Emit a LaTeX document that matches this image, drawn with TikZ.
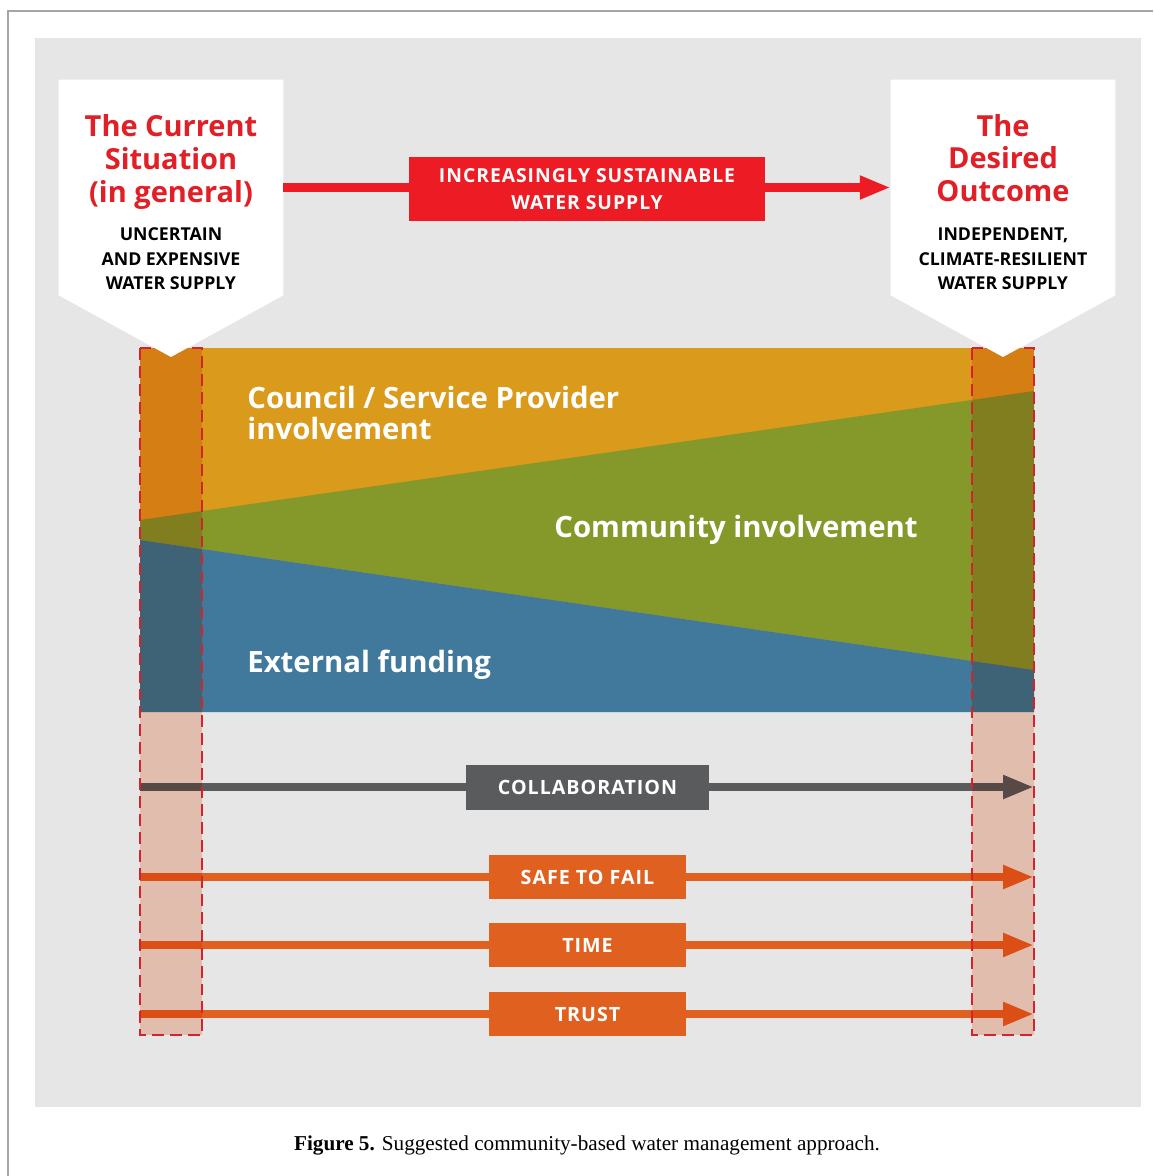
\documentclass[tikz,border=0pt]{standalone}
\usepackage{fontspec}
\setmainfont{Open Sans}
\newfontfamily\capfont{Liberation Serif}
\usetikzlibrary{arrows.meta}

\definecolor{bggrey}{HTML}{E6E6E6}
\definecolor{hired}{HTML}{ED1C24}
\definecolor{ttlred}{HTML}{E11F26}
\definecolor{cnclorange}{HTML}{DA9A1B}
\definecolor{cmtygreen}{HTML}{84992A}
\definecolor{fundblue}{HTML}{40799C}
\definecolor{tint}{HTML}{FAD2C2}
\definecolor{dashred}{HTML}{D3242B}
\definecolor{collgrey}{HTML}{595B5D}
\definecolor{steporange}{HTML}{E0611F}

\begin{document}
\begin{tikzpicture}[x=0.02cm,y=-0.02cm,
    wbox/.style={inner sep=0pt,minimum width=4.48cm,minimum height=4.3cm},
    ttl/.style={text=ttlred,align=center,font=\fontsize{16.5}{18.7}\selectfont\bfseries},
    sub/.style={align=center,font=\fontsize{10.1}{13.9}\selectfont\bfseries},
    tip/.style={-{Triangle[length=17.6pt,width=12.5pt]},line width=5pt},
    redbox/.style={fill=hired,text=white,align=center,inner sep=0pt,
      minimum width=7.12cm,minimum height=1.28cm,
      font=\fontsize{11}{15.3}\selectfont\bfseries\addfontfeatures{LetterSpace=5}},
    band/.style={text=white,align=left,inner sep=0pt,
      font=\fontsize{16.7}{18}\selectfont\bfseries},
    greybox/.style={fill=collgrey,text=white,inner sep=0pt,
      minimum width=4.86cm,minimum height=0.9cm,
      font=\fontsize{11.2}{13}\selectfont\bfseries\addfontfeatures{LetterSpace=5}},
    orbox/.style={fill=steporange,text=white,inner sep=0pt,
      minimum width=3.94cm,minimum height=0.88cm,
      font=\fontsize{11.2}{13}\selectfont\bfseries\addfontfeatures{LetterSpace=5}},
    dashbox/.style={draw=dashred,line width=1.1pt,dash pattern=on 6.8pt off 3.4pt}]
\useasboundingbox (0,0) rectangle (1153,1176);
\fill[white] (0,0) rectangle (1153,1176);
\draw[gray!70,line width=0.6pt] (8,1176) -- (8,11) -- (1153,11);
\fill[bggrey] (35,38) rectangle (1141,1107);

% the three shares
\fill[cnclorange] (140,348) rectangle (1034,712);
\fill[cmtygreen] (140,520) -- (1034,391) -- (1034,670) -- (140,540) -- cycle;
\fill[fundblue] (140,540) -- (1034,670) -- (1034,712) -- (140,712) -- cycle;
\node[band,anchor=west] (cncl) at (247,413) {Council / Service Provider\\involvement};
\node[band] (cmty) at (736,530) {Community involvement};
\node[band,anchor=west] (fund) at (247,665) {External funding};

% conditions along the way
\coordinate (colA) at (140,787);
\coordinate (colB) at (1034,787);
\coordinate (safA) at (140,877);
\coordinate (safB) at (1034,877);
\coordinate (timA) at (140,945);
\coordinate (timB) at (1034,945);
\coordinate (truA) at (140,1014);
\coordinate (truB) at (1034,1014);
\draw[tip,collgrey] (colA) -- (colB);
\draw[tip,steporange] (safA) -- (safB);
\draw[tip,steporange] (timA) -- (timB);
\draw[tip,steporange] (truA) -- (truB);
\node[greybox] (coll) at (587.5,787) {COLLABORATION};
\node[orbox] (safe) at (587.5,877) {SAFE TO FAIL};
\node[orbox] (time) at (587.5,945) {TIME};
\node[orbox] (trust) at (587.5,1014) {TRUST};

% start and end columns
\begin{scope}[blend mode=multiply]
\fill[tint] (140,348) rectangle (202,1035);
\fill[tint] (972,348) rectangle (1034,1035);
\end{scope}
\draw[dashbox] (140,348) rectangle (202,1035);
\draw[dashbox] (972,348) rectangle (1034,1035);

% current and desired state
\node[wbox] (cur) at (171,187.5) {};
\fill[white] (cur.north west) -- (cur.north east) -- (cur.south east)
  -- (171,357) -- (cur.south west) -- cycle;
\node[wbox] (des) at (1003,187.5) {};
\fill[white] (des.north west) -- (des.north east) -- (des.south east)
  -- (1003,357) -- (des.south west) -- cycle;
\node[ttl] (curt) at (171,162) {The Current\\Situation\\(in general)};
\node[sub] (curs) at (171,259) {UNCERTAIN\\AND EXPENSIVE\\WATER SUPPLY};
\node[ttl] (dest) at (1003,158) {The\\Desired\\Outcome};
\node[sub] (dess) at (1003,259) {INDEPENDENT,\\CLIMATE-RESILIENT\\WATER SUPPLY};
\draw[tip,hired] (cur.east) -- (des.west);
\node[redbox] (sust) at (587,189) {INCREASINGLY SUSTAINABLE\\WATER SUPPLY};

\node[font=\capfont\fontsize{12.05}{14}\selectfont] (capt) at (587,1145)
  {\textbf{Figure 5.} Suggested community-based water management approach.};
\end{tikzpicture}
\end{document}
